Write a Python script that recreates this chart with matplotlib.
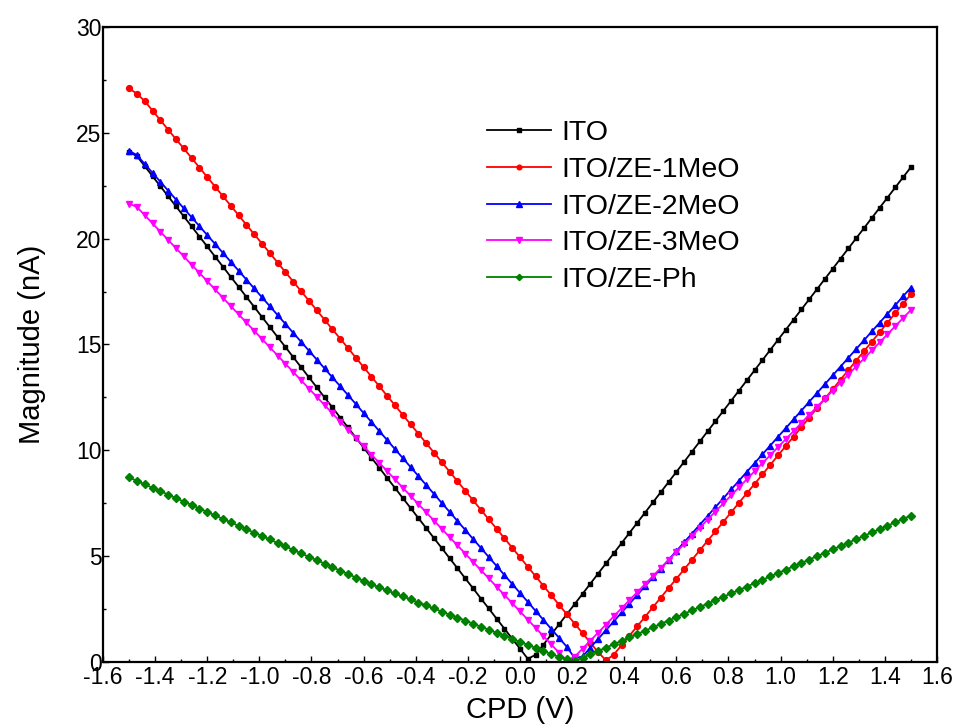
import numpy as np
import matplotlib
matplotlib.use('Agg')
import matplotlib.pyplot as plt
from matplotlib.ticker import MultipleLocator, FormatStrFormatter

plt.rcParams['font.family'] = ['Liberation Sans', 'DejaVu Sans']

# CPD-Achse: 101 Messpunkte von -1.5 V bis 1.5 V (Schritt 0.03 V)
cpd = np.linspace(-1.5, 1.5, 101)

# Magnitude (nA)
ito = [24.10, 23.90, 23.43, 22.95, 22.48, 22.00, 21.53, 21.05, 20.58, 20.10,
       19.63, 19.15, 18.68, 18.20, 17.73, 17.25, 16.78, 16.30, 15.83, 15.35,
       14.88, 14.40, 13.93, 13.45, 12.98, 12.50, 12.03, 11.55, 11.08, 10.60,
       10.13, 9.65, 9.18, 8.70, 8.23, 7.75, 7.28, 6.80, 6.33, 5.85,
       5.38, 4.90, 4.43, 3.95, 3.48, 3.00, 2.53, 2.05, 1.58, 1.10,
       0.63, 0.15, 0.34, 0.82, 1.30, 1.78, 2.26, 2.74, 3.22, 3.70,
       4.18, 4.66, 5.14, 5.62, 6.10, 6.58, 7.06, 7.54, 8.02, 8.50,
       8.98, 9.46, 9.94, 10.42, 10.90, 11.38, 11.86, 12.34, 12.82, 13.30,
       13.78, 14.26, 14.74, 15.22, 15.70, 16.18, 16.66, 17.14, 17.62, 18.10,
       18.58, 19.06, 19.54, 20.02, 20.50, 20.98, 21.46, 21.94, 22.42, 22.90,
       23.38]

ze_1meo = [27.10, 26.85, 26.50, 26.05, 25.60, 25.15, 24.70, 24.26, 23.81, 23.36,
           22.91, 22.46, 22.01, 21.56, 21.11, 20.66, 20.21, 19.77, 19.32, 18.87,
           18.42, 17.97, 17.52, 17.07, 16.62, 16.17, 15.72, 15.28, 14.83, 14.38,
           13.93, 13.48, 13.03, 12.58, 12.13, 11.68, 11.23, 10.79, 10.34, 9.89,
           9.44, 8.99, 8.54, 8.09, 7.64, 7.19, 6.74, 6.30, 5.85, 5.40,
           4.95, 4.50, 4.05, 3.60, 3.15, 2.70, 2.25, 1.81, 1.36, 0.91,
           0.46, 0.08, 0.35, 0.80, 1.25, 1.69, 2.14, 2.59, 3.04, 3.49,
           3.93, 4.38, 4.83, 5.28, 5.73, 6.17, 6.62, 7.07, 7.52, 7.97,
           8.41, 8.86, 9.31, 9.76, 10.21, 10.65, 11.10, 11.55, 12.00, 12.45,
           12.89, 13.34, 13.79, 14.24, 14.69, 15.13, 15.58, 16.03, 16.48, 16.93,
           17.37]

ze_2meo = [24.15, 23.95, 23.53, 23.11, 22.69, 22.27, 21.85, 21.43, 21.01, 20.59,
           20.17, 19.75, 19.33, 18.91, 18.49, 18.07, 17.65, 17.23, 16.81, 16.39,
           15.97, 15.55, 15.13, 14.71, 14.29, 13.87, 13.45, 13.03, 12.61, 12.19,
           11.76, 11.34, 10.91, 10.49, 10.06, 9.64, 9.21, 8.79, 8.36, 7.94,
           7.51, 7.09, 6.66, 6.24, 5.81, 5.39, 4.96, 4.54, 4.11, 3.69,
           3.26, 2.84, 2.41, 1.99, 1.56, 1.14, 0.71, 0.18, 0.26, 0.68,
           1.09, 1.51, 1.92, 2.34, 2.75, 3.17, 3.58, 4.00, 4.41, 4.83,
           5.24, 5.66, 6.07, 6.49, 6.90, 7.32, 7.73, 8.15, 8.56, 8.98,
           9.39, 9.81, 10.22, 10.64, 11.05, 11.47, 11.88, 12.30, 12.71, 13.13,
           13.54, 13.96, 14.37, 14.79, 15.20, 15.62, 16.03, 16.45, 16.86, 17.28,
           17.69]

ze_3meo = [21.65, 21.50, 21.11, 20.72, 20.33, 19.94, 19.55, 19.16, 18.77, 18.38,
           17.99, 17.60, 17.21, 16.82, 16.43, 16.04, 15.65, 15.26, 14.87, 14.48,
           14.09, 13.70, 13.31, 12.92, 12.53, 12.14, 11.75, 11.36, 10.97, 10.58,
           10.19, 9.80, 9.41, 9.02, 8.63, 8.24, 7.85, 7.46, 7.07, 6.68,
           6.29, 5.90, 5.51, 5.12, 4.73, 4.34, 3.95, 3.56, 3.17, 2.78,
           2.39, 2.00, 1.61, 1.22, 0.83, 0.44, 0.07, 0.25, 0.63, 1.01,
           1.39, 1.77, 2.16, 2.54, 2.92, 3.30, 3.68, 4.06, 4.44, 4.82,
           5.20, 5.58, 5.96, 6.34, 6.73, 7.11, 7.49, 7.87, 8.25, 8.63,
           9.01, 9.39, 9.77, 10.15, 10.53, 10.91, 11.30, 11.68, 12.06, 12.44,
           12.82, 13.20, 13.58, 13.96, 14.34, 14.72, 15.10, 15.48, 15.87, 16.25,
           16.63]

ze_ph = [8.72, 8.56, 8.39, 8.23, 8.07, 7.91, 7.74, 7.58, 7.42, 7.25,
         7.09, 6.93, 6.76, 6.60, 6.44, 6.28, 6.11, 5.95, 5.79, 5.62,
         5.46, 5.30, 5.13, 4.97, 4.81, 4.65, 4.48, 4.32, 4.16, 3.99,
         3.83, 3.67, 3.53, 3.38, 3.24, 3.10, 2.96, 2.81, 2.67, 2.53,
         2.38, 2.24, 2.10, 1.96, 1.81, 1.67, 1.53, 1.38, 1.24, 1.10,
         0.95, 0.81, 0.67, 0.52, 0.38, 0.24, 0.12, 0.05, 0.20, 0.36,
         0.52, 0.68, 0.84, 1.00, 1.16, 1.32, 1.48, 1.64, 1.80, 1.96,
         2.12, 2.28, 2.44, 2.60, 2.76, 2.92, 3.08, 3.24, 3.40, 3.56,
         3.72, 3.88, 4.04, 4.20, 4.36, 4.52, 4.68, 4.84, 5.00, 5.16,
         5.32, 5.48, 5.64, 5.80, 5.96, 6.12, 6.28, 6.44, 6.60, 6.76,
         6.92]

labels = ['ITO', 'ITO/ZE-1MeO', 'ITO/ZE-2MeO', 'ITO/ZE-3MeO', 'ITO/ZE-Ph']
series = [ito, ze_1meo, ze_2meo, ze_3meo, ze_ph]
colors = ['black', 'red', 'blue', 'magenta', 'green']
markers = ['s', 'o', '^', 'v', 'D']
msizes = [3.4, 4.2, 5.0, 5.0, 4.0]

fig = plt.figure(figsize=(9.54, 7.27), dpi=100)
ax = fig.add_axes([103 / 954, 65 / 727, 834 / 954, 635 / 727])

for y, lab, c, m, ms in zip(series, labels, colors, markers, msizes):
    ax.plot(cpd, y, color=c, marker=m, markersize=ms, linewidth=1.3, label=lab)

ax.set_xlim(-1.6, 1.6)
ax.set_ylim(0, 30)
ax.xaxis.set_major_locator(MultipleLocator(0.2))
ax.xaxis.set_minor_locator(MultipleLocator(0.1))
ax.yaxis.set_major_locator(MultipleLocator(5))
ax.yaxis.set_minor_locator(MultipleLocator(2.5))
ax.xaxis.set_major_formatter(FormatStrFormatter('%.1f'))
ax.tick_params(which='both', direction='in', top=False, right=False, width=1.0)
ax.tick_params(which='major', length=4, labelsize=16.5, pad=3)
ax.tick_params(axis='y', which='major', pad=1)
ax.tick_params(which='minor', length=2.5)
for sp in ax.spines.values():
    sp.set_linewidth(1.6)

ax.set_xlabel('CPD (V)', fontsize=21, labelpad=5)
ax.set_ylabel('Magnitude (nA)', fontsize=21, labelpad=22)

ax.legend(loc='upper left', bbox_to_anchor=(487 / 954, 1 - 120 / 727),
          bbox_transform=fig.transFigure, frameon=False, fontsize=20.5,
          handlelength=2.25, handletextpad=0.35, labelspacing=0.38,
          borderpad=0, borderaxespad=0, markerscale=0.8)

fig.savefig('out.png', dpi=100)
